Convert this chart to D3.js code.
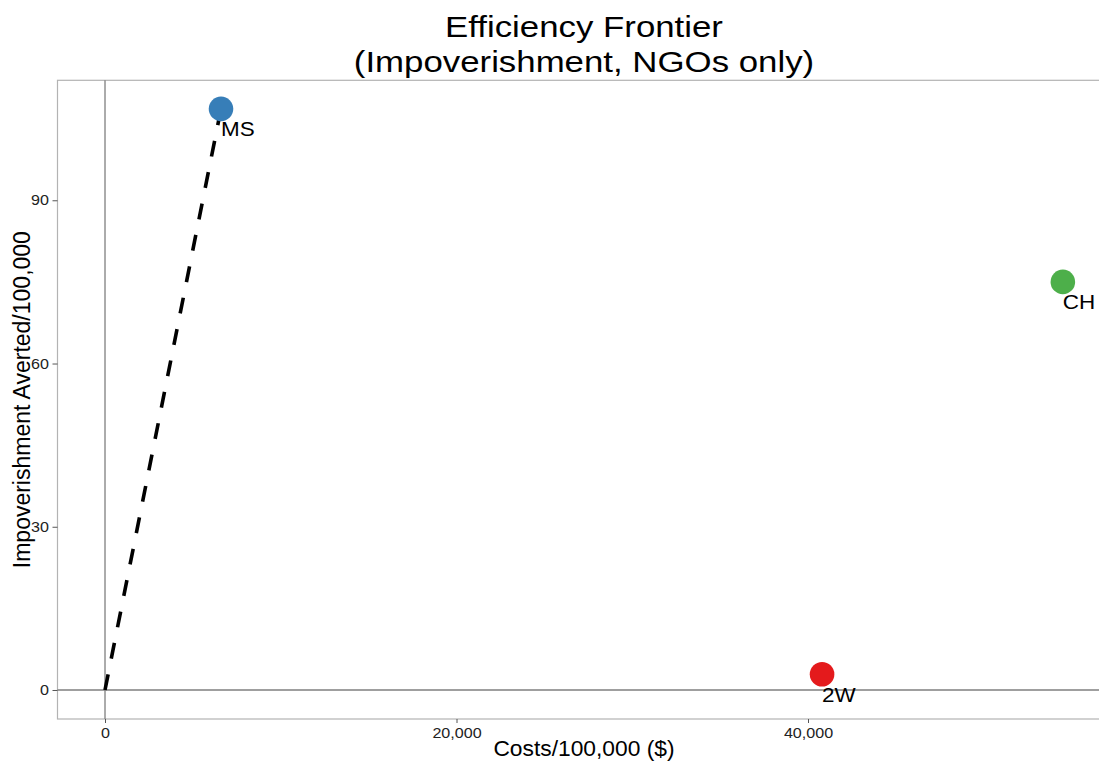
<!DOCTYPE html>
<html><head><meta charset="utf-8">
<script src="https://cdn.jsdelivr.net/npm/d3@7"></script>
<style>
body{margin:0;background:#fff;}
text{font-family:"Liberation Sans",Arial,Helvetica,sans-serif;}
</style></head>
<body><svg id="c" width="1099" height="761"></svg>
<script>
const labels = ["MS","CH","2W"];
const costs = [6600, 54500, 40800];
const averted = [106.8, 75.0, 2.9];
const colors = ["#377EB8","#4DAF4A","#E41A1C"];
const xTicks = [0, 20000, 40000];
const yTicks = [0, 30, 60, 90];
const frontier = [{x:0,y:0},{x:6600,y:106.8}];

const svg = d3.select("#c");
const L = 57.5, R = 1110, T = 80.3, B = 719;
const x = d3.scaleLinear().domain([-2703, 57183]).range([L, R]);
const y = d3.scaleLinear().domain([-5.33, 112.05]).range([B, T]);

function stretch(sel, f){
  sel.each(function(){
    const w = this.getComputedTextLength();
    this.setAttribute("textLength", (w*f).toFixed(2));
    this.setAttribute("lengthAdjust","spacingAndGlyphs");
  });
}

// panel border
svg.append("rect").attr("x",L).attr("y",T).attr("width",R-L).attr("height",B-T)
  .attr("fill","none").attr("stroke","#b3b3b3").attr("stroke-width",1.2);

// reference lines
svg.append("line").attr("x1",x(0)).attr("x2",x(0)).attr("y1",T).attr("y2",B)
  .attr("stroke","#7f7f7f").attr("stroke-width",1.3);
svg.append("line").attr("x1",L).attr("x2",R).attr("y1",y(0)).attr("y2",y(0))
  .attr("stroke","#7f7f7f").attr("stroke-width",1.3);

// axes
const ya = svg.append("g").attr("transform",`translate(${L},0)`)
  .call(d3.axisLeft(y).tickValues(yTicks).tickSize(5).tickPadding(3.5));
const xa = svg.append("g").attr("transform",`translate(0,${B})`)
  .call(d3.axisBottom(x).tickValues(xTicks).tickSize(4).tickPadding(5).tickFormat(d3.format(",")));
[ya,xa].forEach(g=>{
  g.attr("font-size",14).attr("font-family","'Liberation Sans',Arial,sans-serif");
  g.select(".domain").remove();
  g.selectAll("line").attr("stroke","#555");
  g.selectAll("text").attr("font-size",14).attr("fill","#222");
  stretch(g.selectAll("text"), 1.15);
});

// frontier
svg.append("path").datum(frontier)
  .attr("d", d3.line().x(d=>x(d.x)).y(d=>y(d.y)))
  .attr("fill","none").attr("stroke","#000").attr("stroke-width",3.6)
  .attr("stroke-dasharray","16,16");

// points
const data = labels.map((l,i)=>({l, c:costs[i], a:averted[i], col:colors[i]}));
svg.selectAll("circle.p").data(data).join("circle")
  .attr("cx",d=>x(d.c)).attr("cy",d=>y(d.a)).attr("r",12.3).attr("fill",d=>d.col);
const labs = svg.selectAll("text.lab").data(data).join("text")
  .attr("x",d=>x(d.c)).attr("y",d=>y(d.a)+27.5)
  .attr("font-size",19.5).attr("fill","#000").text(d=>d.l);
stretch(labs, 1.15);

// titles
const tx = 584;
const t1 = svg.append("text").attr("x",tx).attr("y",36.5).attr("text-anchor","middle")
  .attr("font-size",29.5).text("Efficiency Frontier");
const t2 = svg.append("text").attr("x",tx).attr("y",71.5).attr("text-anchor","middle")
  .attr("font-size",29.5).text("(Impoverishment, NGOs only)");
stretch(t1, 1.18); stretch(t2, 1.18);
svg.append("text").attr("x",tx).attr("y",756).attr("text-anchor","middle")
  .attr("font-size",22.8).text("Costs/100,000 ($)");
svg.append("text").attr("transform",`translate(29.5,${(T+B)/2}) rotate(-90)`)
  .attr("text-anchor","middle").attr("font-size",23).text("Impoverishment Averted/100,000");
</script></body></html>
